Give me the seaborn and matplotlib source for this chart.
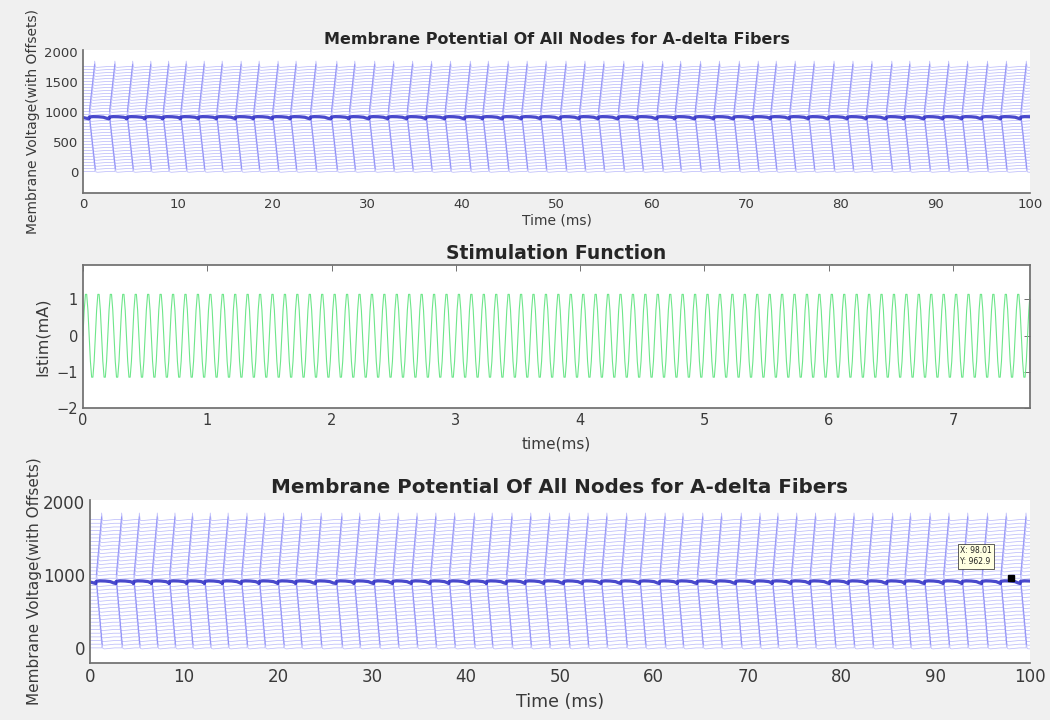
import numpy as np
import pandas as pd
import matplotlib
matplotlib.use("Agg")
import matplotlib.pyplot as plt
import seaborn as sns

# ---- fibre recording ----------------------------------------------------
# time (ms) at which the outermost node reaches the peak of each propagated spike
top_node_peaks = [1.24, 3.37, 5.25, 7.16, 9.04, 10.9, 12.8, 14.7, 16.7, 18.6,
                  20.6, 22.5, 24.6, 26.8, 28.7, 30.8, 32.8, 34.8, 36.8, 38.8,
                  40.9, 42.8, 44.9, 46.9, 48.9, 51.0, 53.0, 55.0, 57.1, 59.1,
                  61.2, 63.1, 65.2, 67.2, 69.3, 71.3, 73.2, 75.2, 77.2, 79.3,
                  81.3, 83.3, 85.4, 87.3, 89.4, 91.4, 93.4, 95.5, 97.5, 99.6]
n_nodes = 36
node_spacing = 50.0        # vertical offset between neighbouring node traces
first_offset = 5.0         # baseline of node 0
stim_node = 18             # node under the electrode
conduction_delay = 0.035   # ms per node away from the stimulated node
# action potential waveform relative to its onset (ms, mV above rest)
ap_t = [0.0, 0.03, 0.06, 0.12, 0.30, 0.80, 1.40]
ap_v = [0.0, 90.0, 55.0, -8.0, -14.0, -7.0, 0.0]
# membrane under the electrode: scalloped recovery between firings
stim_node_t = [0.0, 0.05, 0.45, 1.0, 1.55, 1.9]
stim_node_v = [-22.0, 8.0, 14.0, 12.0, 4.0, -14.0]
t_end = 100.0

# ---- stimulus -----------------------------------------------------------
stim_amp = 1.2        # mA
stim_freq = 10.0      # kHz
stim_dur = 7.62       # ms
stim_dt = 0.01        # ms

# ---- data cursor --------------------------------------------------------
tip_x = 98.01
tip_y = 962.9

# build the long-form table of node traces
peak_to_onset = ap_t[1] + (n_nodes - 1 - stim_node) * conduction_delay
stim_onsets = [p - peak_to_onset for p in top_node_peaks]
rows = []
for node in range(n_nodes):
    base = first_offset + node * node_spacing
    lag = abs(node - stim_node) * conduction_delay
    if node == stim_node:
        shape_t, shape_v = stim_node_t, stim_node_v
    else:
        shape_t, shape_v = ap_t, ap_v
    rows.append((node, 0.0, base))
    for onset in stim_onsets:
        for dt, dv in zip(shape_t, shape_v):
            rows.append((node, onset + lag + dt, base + dv))
    rows.append((node, t_end + 1.0, base))
traces = pd.DataFrame(rows, columns=["node", "t", "v"])

stim_t = np.arange(0.0, stim_dur + stim_dt, stim_dt)
stim = pd.DataFrame({"t": stim_t,
                     "i": stim_amp * np.sin(2 * np.pi * stim_freq * stim_t)})

sns.set_theme(style="white")
plt.rcParams["font.family"] = ["DejaVu Sans"]
plt.rcParams["axes.edgecolor"] = "#707070"
plt.rcParams["xtick.color"] = "#707070"
plt.rcParams["ytick.color"] = "#707070"
plt.rcParams["xtick.labelcolor"] = "#3a3a3a"
plt.rcParams["ytick.labelcolor"] = "#3a3a3a"

fig = plt.figure(figsize=(10.5, 7.2), dpi=100, facecolor="#f0f0f0")
ax1 = fig.add_axes([0.079, 0.7315, 0.902, 0.199])
ax2 = fig.add_axes([0.079, 0.4329, 0.902, 0.199])
ax3 = fig.add_axes([0.0857, 0.0788, 0.895, 0.2268])


def draw_nodes(ax):
    others = traces[traces["node"] != stim_node]
    sns.lineplot(data=others, x="t", y="v", units="node", estimator=None,
                 sort=False, color="#2424f0", lw=0.55, alpha=0.3, ax=ax,
                 legend=False)
    sns.lineplot(data=traces[traces["node"] == stim_node], x="t", y="v",
                 estimator=None, sort=False, color="#1c1cc0", lw=2.3,
                 alpha=0.8, ax=ax, legend=False)
    ax.set_xlim(0, 100)
    ax.set_xticks(np.arange(0, 101, 10))
    for side in ("top", "right"):
        ax.spines[side].set_visible(False)
    ax.tick_params(direction="in", length=4, width=0.7)


for ax in (ax1, ax2, ax3):
    ax.set_facecolor("white")

# top panel
draw_nodes(ax1)
ax1.set_ylim(-360, 2030)
ax1.set_yticks([0, 500, 1000, 1500, 2000])
ax1.tick_params(labelsize=9.5)
ax1.set_title("Membrane Potential Of All Nodes for A-delta Fibers",
              fontsize=11.5, fontweight="bold", pad=4)
ax1.set_xlabel("Time (ms)", fontsize=10, labelpad=2, color="#3a3a3a")
ax1.set_ylabel("Membrane Voltage(with Offsets)", fontsize=10, labelpad=3,
               color="#3a3a3a")

# stimulus panel
sns.lineplot(data=stim, x="t", y="i", color="#6ee68a", lw=0.8, ax=ax2,
             estimator=None, sort=False)
ax2.set_xlim(0, stim_dur)
ax2.set_ylim(-2, 1.95)
ax2.set_yticks([-2, -1, 0, 1])
ax2.set_xticks(np.arange(0, 8, 1))
ax2.tick_params(direction="in", length=4, width=0.7, top=True, right=True,
                labelsize=10.5)
ax2.set_title("Stimulation Function", fontsize=13.5, fontweight="bold", pad=4)
ax2.set_xlabel("time(ms)", fontsize=11, labelpad=6, color="#3a3a3a")
ax2.set_ylabel("Istim(mA)", fontsize=11.5, labelpad=5, color="#3a3a3a")

# bottom panel
draw_nodes(ax3)
ax3.set_ylim(-205, 2023)
ax3.set_yticks([0, 1000, 2000])
ax3.tick_params(labelsize=12)
ax3.set_title("Membrane Potential Of All Nodes for A-delta Fibers",
              fontsize=14.3, fontweight="bold", pad=5)
ax3.set_xlabel("Time (ms)", fontsize=12.5, labelpad=5, color="#3a3a3a")
ax3.set_ylabel("Membrane Voltage(with Offsets)", fontsize=11, labelpad=1,
               color="#3a3a3a")

# data cursor
ax3.plot([tip_x], [tip_y], marker="s", ms=5, color="black", ls="none")
ax3.text(tip_x - 5.4, tip_y + 290, f"X: {tip_x:.2f}\nY: {tip_y:.1f}",
         fontsize=5.5, ha="left", va="center", color="#222222",
         linespacing=1.3,
         bbox=dict(boxstyle="square,pad=0.3", fc="#ffffe1", ec="#202020",
                   lw=0.5))

fig.savefig("out.png", dpi=100, facecolor=fig.get_facecolor())
